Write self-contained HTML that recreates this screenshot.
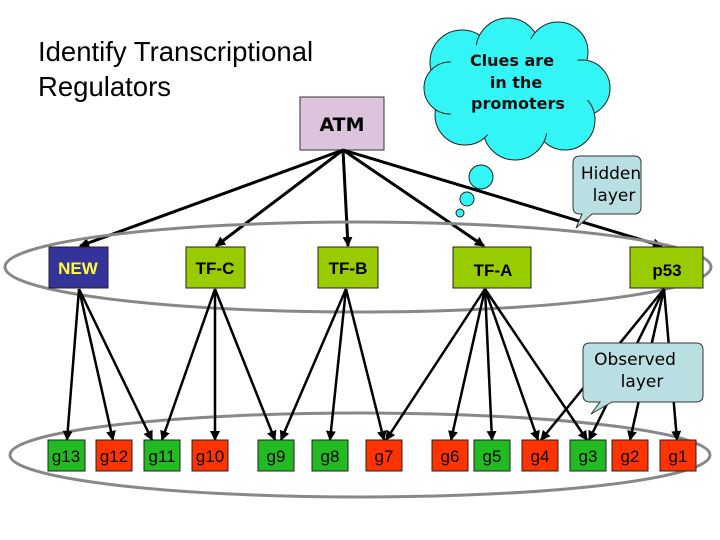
<!DOCTYPE html>
<html><head><style>body{margin:0;background:#fff}svg{display:block}</style></head>
<body>
<svg width="720" height="540" viewBox="0 0 720 540" xmlns="http://www.w3.org/2000/svg" font-family="Liberation Sans, sans-serif">
<defs>
<marker id="a" markerWidth="10" markerHeight="10" refX="9" refY="5" orient="auto" markerUnits="userSpaceOnUse"><path d="M0,0 L10,5 L0,10 z" fill="#000"/></marker>
</defs>
<rect width="720" height="540" fill="#fff"/>
<text x="38" y="61" font-size="27.5" fill="#000">Identify Transcriptional</text>
<text x="38" y="96" font-size="27.5" fill="#000">Regulators</text>

<!-- cloud -->
<g fill="#33f5f5" stroke="#222" stroke-width="1">
<circle cx="462" cy="62" r="32"/><circle cx="508" cy="50" r="32"/><circle cx="558" cy="52" r="30"/><circle cx="582" cy="88" r="28"/>
<circle cx="565" cy="120" r="30"/><circle cx="515" cy="128" r="32"/><circle cx="465" cy="115" r="30"/><circle cx="450" cy="88" r="26"/>
</g>
<g fill="#33f5f5"><ellipse cx="515" cy="88" rx="75" ry="50"/></g>
<text font-size="16" font-weight="bold" fill="#111" text-anchor="middle" font-family="DejaVu Sans, sans-serif"><tspan x="512" y="66">Clues are</tspan><tspan x="516" y="88">in the</tspan><tspan x="518" y="109">promoters</tspan></text>
<g fill="#33f5f5" stroke="#222" stroke-width="1"><circle cx="481" cy="177" r="12"/><circle cx="467" cy="199" r="7"/><circle cx="460" cy="213" r="4"/></g>

<!-- ATM -->
<rect x="300" y="97" width="84" height="53" fill="#dcc4dc" stroke="#333"/>
<text x="342" y="131" font-size="19" font-weight="bold" text-anchor="middle" font-family="DejaVu Sans, sans-serif">ATM</text>

<!-- ATM arrows -->
<g stroke="#000" stroke-width="3" marker-end="url(#a)">
<line x1="343" y1="150" x2="80" y2="246"/><line x1="343" y1="150" x2="216" y2="246"/><line x1="343" y1="150" x2="348" y2="246"/><line x1="343" y1="150" x2="484" y2="246"/><line x1="343" y1="150" x2="662" y2="246"/>
</g>

<!-- hidden callout -->
<path d="M580,156 H634 Q641,156 641,163 V207 Q641,214 634,214 H592 L576,228 L582,214 H580 Q573,214 573,207 V163 Q573,156 580,156 Z" fill="#b9dfe3" stroke="#333"/>
<text font-size="17" text-anchor="middle" font-family="DejaVu Sans, sans-serif"><tspan x="611" y="179">Hidden</tspan><tspan x="614" y="201">layer</tspan></text>

<!-- hidden ellipse -->
<ellipse cx="358" cy="267" rx="353" ry="45" fill="none" stroke="#888" stroke-width="3"/>

<!-- hidden nodes -->
<rect x="49" y="247" width="59" height="41" fill="#333399" stroke="#222"/>
<text x="78" y="274" font-size="17" font-weight="bold" fill="#ffff33" text-anchor="middle">NEW</text>
<g fill="#99cc00" stroke="#222">
<rect x="186" y="247" width="59" height="41"/><rect x="318" y="247" width="60" height="41"/><rect x="453" y="247" width="78" height="41"/><rect x="630" y="247" width="73" height="41"/>
</g>
<g font-size="17" font-weight="bold" text-anchor="middle" fill="#000">
<text x="215" y="274">TF-C</text><text x="348" y="274">TF-B</text><text x="493" y="276">TF-A</text><text x="667" y="276">p53</text>
</g>

<!-- observed ellipse -->
<ellipse cx="360" cy="455" rx="350" ry="42" fill="none" stroke="#888" stroke-width="3"/>

<!-- hidden to observed arrows -->
<g stroke="#000" stroke-width="2.5" marker-end="url(#a)">
<line x1="79" y1="289" x2="67" y2="440"/><line x1="79" y1="289" x2="113" y2="440"/><line x1="79" y1="289" x2="152" y2="440"/>
<line x1="215" y1="289" x2="162" y2="440"/><line x1="215" y1="289" x2="215" y2="440"/><line x1="215" y1="289" x2="275" y2="440"/>
<line x1="346" y1="289" x2="281" y2="440"/><line x1="346" y1="289" x2="330" y2="440"/><line x1="346" y1="289" x2="384" y2="440"/>
<line x1="485" y1="289" x2="386" y2="440"/><line x1="485" y1="289" x2="451" y2="440"/><line x1="485" y1="289" x2="492" y2="440"/><line x1="485" y1="289" x2="538" y2="440"/><line x1="485" y1="289" x2="587" y2="440"/>
<line x1="664" y1="289" x2="541" y2="440"/><line x1="664" y1="289" x2="589" y2="440"/><line x1="664" y1="289" x2="630" y2="440"/><line x1="664" y1="289" x2="677" y2="440"/>
</g>

<!-- observed callout -->
<path d="M590,343 H696 Q703,343 703,350 V395 Q703,402 696,402 H612 L591,414 L600,402 H590 Q583,402 583,395 V350 Q583,343 590,343 Z" fill="#b9dfe3" stroke="#333"/>
<text font-size="17" text-anchor="middle" font-family="DejaVu Sans, sans-serif"><tspan x="635" y="365">Observed</tspan><tspan x="642" y="387">layer</tspan></text>

<!-- observed nodes -->
<g stroke="#222">
<rect x="48" y="440" width="37" height="31" fill="#22bb22"/>
<rect x="96" y="440" width="36" height="31" fill="#ff3300"/>
<rect x="144" y="440" width="36" height="31" fill="#22bb22"/>
<rect x="192" y="440" width="36" height="31" fill="#ff3300"/>
<rect x="258" y="440" width="36" height="31" fill="#22bb22"/>
<rect x="312" y="440" width="36" height="31" fill="#22bb22"/>
<rect x="366" y="440" width="36" height="31" fill="#ff3300"/>
<rect x="432" y="440" width="36" height="31" fill="#ff3300"/>
<rect x="474" y="440" width="36" height="31" fill="#22bb22"/>
<rect x="522" y="440" width="36" height="31" fill="#ff3300"/>
<rect x="570" y="440" width="36" height="31" fill="#22bb22"/>
<rect x="612" y="440" width="36" height="31" fill="#ff3300"/>
<rect x="660" y="440" width="36" height="31" fill="#ff3300"/>
</g>
<g font-size="17" text-anchor="middle" fill="#000">
<text x="66" y="462">g13</text><text x="114" y="462">g12</text><text x="162" y="462">g11</text><text x="210" y="462">g10</text>
<text x="276" y="462">g9</text><text x="330" y="462">g8</text><text x="384" y="462">g7</text><text x="450" y="462">g6</text>
<text x="492" y="462">g5</text><text x="540" y="462">g4</text><text x="588" y="462">g3</text><text x="630" y="462">g2</text><text x="678" y="462">g1</text>
</g>
</svg>
</body></html>
